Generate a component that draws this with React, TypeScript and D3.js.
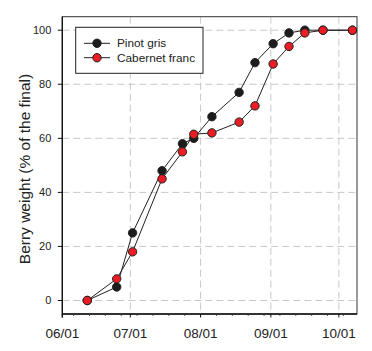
import React from "react";
import * as d3 from "d3";

// sampling dates (same for both cultivars)
const dates = [
  "2010-06-12", "2010-06-25", "2010-07-02", "2010-07-15", "2010-07-24",
  "2010-07-29", "2010-08-06", "2010-08-18", "2010-08-25", "2010-09-02",
  "2010-09-09", "2010-09-16", "2010-09-24", "2010-10-07",
];
const pinotGris = [0, 5, 25, 48, 58, 60, 68, 77, 88, 95, 99, 100, 100, 100];
const cabernetFranc = [0, 8, 18, 45, 55, 61.5, 62, 66, 72, 87.5, 94, 99, 100, 100];
const yTicks = [0, 20, 40, 60, 80, 100];
const monthTicks = ["2010-06-01", "2010-07-01", "2010-08-01", "2010-09-01", "2010-10-01"];

const series = [
  { name: "Pinot gris", values: pinotGris, fill: "#1c1c1c" },
  { name: "Cabernet franc", values: cabernetFranc, fill: "#ec1c24" },
];

const parse = d3.timeParse("%Y-%m-%d");
const fmt = d3.timeFormat("%m/%d");
const font = "'Liberation Sans', Arial, sans-serif";

const App = () => {
  const left = 62.3, right = 357, top = 16.7, bottom = 314;
  const x = d3
    .scaleTime()
    .domain([parse("2010-06-01"), parse("2010-10-09")])
    .range([left, right]);
  const y = d3.scaleLinear().domain([-5, 105]).range([bottom, top]);
  const months = monthTicks.map((d) => parse(d));
  const weeks = d3.timeWeek.range(x.domain()[0], x.domain()[1]);
  const line = d3
    .line()
    .x((d) => d[0])
    .y((d) => d[1]);

  return (
    <svg
      width={372}
      height={351}
      style={{ position: "absolute", left: 0, top: 0, background: "#fff" }}
      fontFamily={font}
    >
      {/* grid */}
      {yTicks.map((t) => (
        <line key={"gy" + t} x1={left} x2={right} y1={y(t)} y2={y(t)}
          stroke="#c8c8c8" strokeWidth={1} strokeDasharray="7,4" />
      ))}
      {months.slice(1).map((m, i) => (
        <line key={"gx" + i} x1={x(m)} x2={x(m)} y1={top} y2={bottom}
          stroke="#c8c8c8" strokeWidth={1} strokeDasharray="7,4" />
      ))}

      {/* frame */}
      <rect x={left} y={top} width={right - left} height={bottom - top}
        fill="none" stroke="#333" strokeWidth={1} />
      <line x1={left} x2={left} y1={top} y2={bottom + 3.5} stroke="#111" strokeWidth={1.3} />
      <line x1={left} x2={right} y1={bottom} y2={bottom} stroke="#111" strokeWidth={1.3} />

      {/* y axis */}
      {yTicks.map((t) => (
        <g key={"yt" + t}>
          <line x1={left - 4.5} x2={left} y1={y(t)} y2={y(t)} stroke="#111" strokeWidth={1} />
          <text x={left - 11} y={y(t)} dy="0.35em" textAnchor="end" fontSize={11} fill="#222">
            {t}
          </text>
        </g>
      ))}

      {/* x axis */}
      {weeks.map((w, i) => (
        <line key={"wk" + i} x1={x(w)} x2={x(w)} y1={bottom} y2={bottom + 2}
          stroke="#333" strokeWidth={0.8} />
      ))}
      {months.map((m, i) => (
        <g key={"xt" + i}>
          <line x1={x(m)} x2={x(m)} y1={bottom} y2={bottom + 3.5} stroke="#111" strokeWidth={1} />
          <text x={x(m)} y={338} textAnchor="middle" fontSize={13.5} fill="#222">
            {fmt(m)}
          </text>
        </g>
      ))}

      <text
        transform={`translate(29.5,169) rotate(-90)`}
        textAnchor="middle"
        fontSize={15.5}
        fill="#222"
      >
        Berry weight (% of the final)
      </text>

      {/* series */}
      {series.map((s) => {
        const pts = s.values.map((v, i) => [x(parse(dates[i])), y(v)]);
        return (
          <g key={s.name}>
            <path d={line(pts)} fill="none" stroke="#222" strokeWidth={1} />
            {pts.map((p, i) => (
              <circle key={i} cx={p[0]} cy={p[1]} r={4.2} fill={s.fill}
                stroke="#222" strokeWidth={1} />
            ))}
          </g>
        );
      })}

      {/* legend */}
      <rect x={75.7} y={27.3} width={127.3} height={46} fill="#fff" stroke="#222" strokeWidth={1} />
      {series.map((s, i) => {
        const cy = 43.3 + i * 14.4;
        return (
          <g key={"lg" + i}>
            <line x1={84} x2={110} y1={cy} y2={cy} stroke="#222" strokeWidth={1} />
            <circle cx={97} cy={cy} r={4.2} fill={s.fill} stroke="#222" strokeWidth={1} />
            <text x={117} y={cy} dy="0.35em" fontSize={11.8} fill="#222">
              {s.name}
            </text>
          </g>
        );
      })}
    </svg>
  );
};

export default App;
